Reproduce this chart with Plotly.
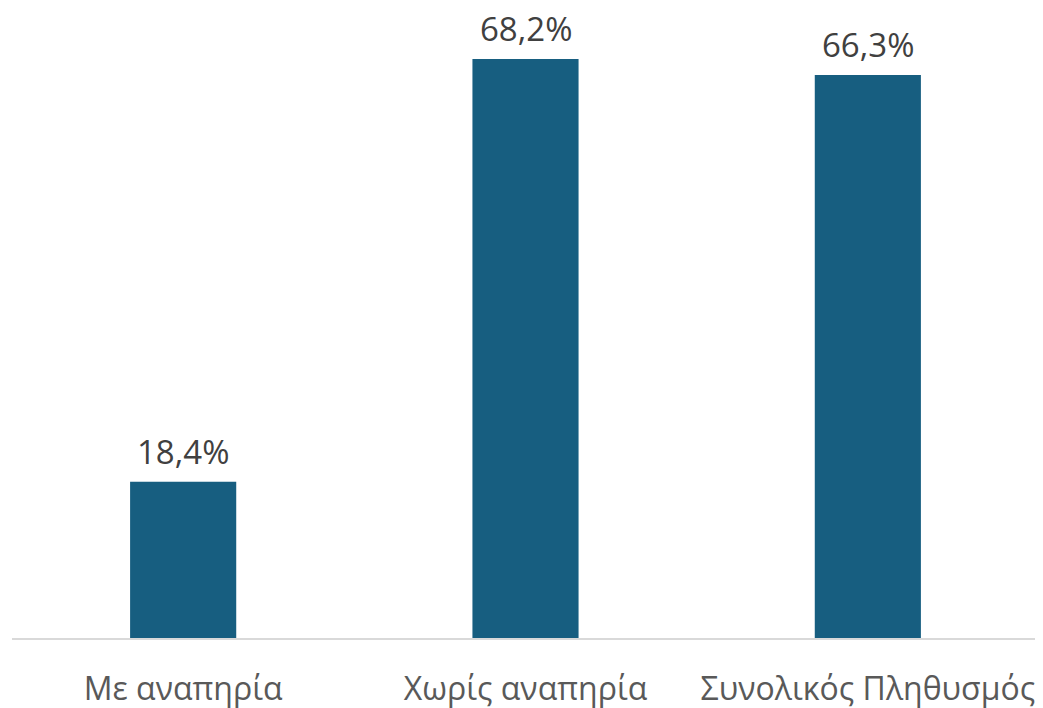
import plotly.graph_objects as go

categories = ["Με αναπηρία", "Χωρίς αναπηρία", "Συνολικός Πληθυσμός"]
values = [18.4, 68.2, 66.3]
labels = ["18,4%", "68,2%", "66,3%"]

fig = go.Figure(go.Bar(
    x=categories, y=values,
    marker=dict(color="#175E80", line=dict(width=0)),
    cliponaxis=False,
))
for c, v, t in zip(categories, values, labels):
    fig.add_annotation(x=c, y=v, text=t, showarrow=False, yanchor="bottom",
                       yshift=7, borderpad=0,
                       font=dict(family="Open Sans, sans-serif", size=33, color="#404040"))
fig.update_layout(
    width=1035, height=700,
    margin=dict(l=4, r=4, t=0, b=70, autoexpand=False),
    plot_bgcolor="white", paper_bgcolor="white",
    bargap=0.69, showlegend=False,
    font=dict(family="Open Sans, sans-serif"),
)
fig.update_xaxes(showline=True, linecolor="#D9D9D9", linewidth=2, automargin=False,
                 tickfont=dict(size=32, color="#595959"), ticks="", ticklen=0,
                 ticklabelstandoff=22)
fig.update_yaxes(range=[0, 74.2], visible=False, showgrid=False, automargin=False)
fig.write_html("out.html")
